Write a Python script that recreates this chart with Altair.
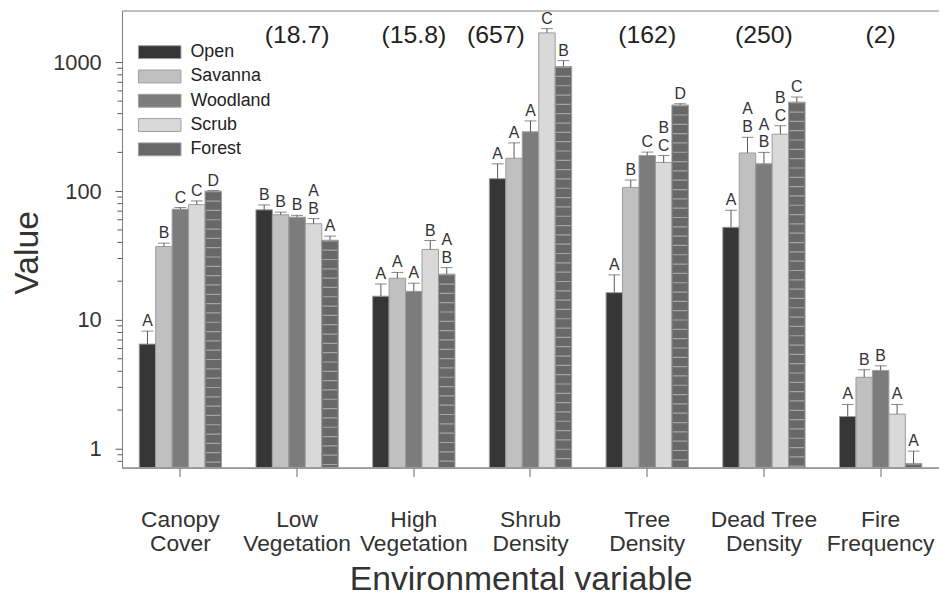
import altair as alt
import pandas as pd

categories = ["Canopy Cover", "Low Vegetation", "High Vegetation", "Shrub Density",
              "Tree Density", "Dead Tree Density", "Fire Frequency"]
habitats = ["Open", "Savanna", "Woodland", "Scrub", "Forest"]
colors = ["#363636", "#c0c0c0", "#7c7c7c", "#d9d9d9", "#686868"]

means = {
    "Open":     [6.5, 71.6, 15.3, 125, 16.3, 52.4, 1.78],
    "Savanna":  [37.2, 65.6, 21.1, 180, 107, 198, 3.59],
    "Woodland": [72.4, 62.8, 16.7, 289, 189, 163, 4.06],
    "Scrub":    [78.6, 55.9, 35.3, 1693, 167, 277, 1.86],
    "Forest":   [100, 41.6, 22.7, 928, 466, 491, 0.77],
}
upper = {
    "Open":     [8.2, 78.2, 19.0, 163, 22.4, 71.1, 2.21],
    "Savanna":  [39.5, 68.7, 23.4, 237, 122, 262, 4.11],
    "Woodland": [74.6, 64.9, 19.3, 351, 201, 200, 4.41],
    "Scrub":    [84, 61.2, 41.4, 1827, 189, 322, 2.21],
    "Forest":   [101, 44.8, 25.5, 1032, 477, 538, 0.96],
}
# letter directly above the error bar
letters_low = {
    "Open":     ["A", "B", "A", "A", "A", "A", "A"],
    "Savanna":  ["B", "B", "A", "A", "B", "B", "B"],
    "Woodland": ["C", "B", "A", "A", "C", "B", "B"],
    "Scrub":    ["C", "B", "B", "C", "C", "C", "A"],
    "Forest":   ["D", "A", "B", "B", "D", "C", "A"],
}
# second letter stacked above (where two groups share)
letters_high = {
    "Open":     ["", "", "", "", "", "", ""],
    "Savanna":  ["", "", "", "", "", "A", ""],
    "Woodland": ["", "", "", "", "", "A", ""],
    "Scrub":    ["", "A", "", "", "B", "B", ""],
    "Forest":   ["", "", "A", "", "", "", ""],
}
totals = ["", "(18.7)", "(15.8)", "(657)", "(162)", "(250)", "(2)"]
major_ticks = [1, 10, 100, 1000]
minor_ticks = [0.8, 0.9, 2, 3, 4, 5, 6, 7, 8, 9, 20, 30, 40, 50, 60, 70, 80, 90,
               200, 300, 400, 500, 600, 700, 800, 900]
YMIN, YMAX = 0.715, 2525

rows = []
for h in habitats:
    for i, c in enumerate(categories):
        rows.append({"cat": c, "hab": h, "mean": means[h][i], "upper": upper[h][i],
                     "lo": letters_low[h][i], "hi": letters_high[h][i]})
df = pd.DataFrame(rows)
tot_df = pd.DataFrame({"cat": categories, "total": totals})
minor_df = pd.DataFrame({"v": minor_ticks})

W, H = 824, 461
FONT = "Liberation Sans"

xscale = alt.Scale(domain=categories, paddingInner=0.295, paddingOuter=0.1475)
oscale = alt.Scale(domain=habitats, paddingInner=0, paddingOuter=0)
yscale = alt.Scale(type="log", domain=[YMIN, YMAX], nice=False)

label_expr = ("datum.label == 'Dead Tree Density' ? ['Dead Tree', 'Density'] : "
              "split(datum.label, ' ')")

x_enc = alt.X("cat:N", scale=xscale, sort=categories, title="Environmental variable",
              axis=alt.Axis(labelExpr=label_expr, labelFontSize=23,
                            labelLineHeight=25, labelPadding=32, labelColor="#333",
                            tickSize=9, tickColor="#666", domainColor="#808080",
                            labelAngle=0, titleFontSize=34, titleFont=FONT,
                            titleFontWeight="normal", titleColor="#333",
                            titleX=402, titleY=123, titleBaseline="alphabetic"))
xo_enc = alt.XOffset("hab:N", scale=oscale, sort=habitats)
x_plain = alt.X("cat:N", scale=xscale, sort=categories)

bars = alt.Chart(df).mark_bar(stroke="#9c9c9c", strokeWidth=1).encode(
    x=x_enc, xOffset=xo_enc,
    y=alt.Y("mean:Q", scale=yscale, title="Value",
            axis=alt.Axis(values=major_ticks, labelExpr="format(datum.value, 'd')",
                          tickSize=7, labelPadding=14, labelFontSize=22, labelColor="#333",
                          tickColor="#555", domainColor="#808080", grid=False,
                          titleFontSize=34, titleFontWeight="normal", titleColor="#333",
                          titleX=-95, titleY=244, titleAlign="center",
                          titleBaseline="middle")),
    y2=alt.datum(YMIN),
    fill=alt.Fill("hab:N", scale=alt.Scale(domain=habitats, range=colors),
                  legend=alt.Legend(title=None, orient="none", legendX=29, legendY=33,
                                    symbolType="M-3.3,-1L3.3,-1L3.3,1L-3.3,1Z",
                                    symbolSize=169, symbolStrokeColor="#a0a0a0",
                                    symbolStrokeWidth=1, labelFontSize=18,
                                    labelColor="#222", labelOffset=22, rowPadding=6.5,
                                    padding=0)),
)

stripes = alt.Chart(df).transform_filter(alt.datum.hab == "Forest").mark_rule(
    strokeWidth=14.5, strokeDash=[1.2, 8.2], color="#a5a5a5", strokeCap="butt"
).encode(x=x_plain, xOffset=xo_enc,
         y=alt.Y("mean:Q", scale=yscale), y2=alt.datum(YMIN))

err = alt.Chart(df).mark_rule(color="#555", strokeWidth=1).encode(
    x=x_plain, xOffset=xo_enc,
    y=alt.Y("mean:Q", scale=yscale), y2="upper:Q")

caps = alt.Chart(df).mark_tick(color="#555", size=12, thickness=1).encode(
    x=x_plain, xOffset=xo_enc,
    y=alt.Y("upper:Q", scale=yscale))

let_lo = alt.Chart(df).mark_text(baseline="bottom", dy=-2, fontSize=16, color="#333").encode(
    x=x_plain, xOffset=xo_enc, y=alt.Y("upper:Q", scale=yscale), text="lo:N")

let_hi = alt.Chart(df).transform_filter(alt.datum.hi != "").mark_text(
    baseline="bottom", dy=-20, fontSize=16, color="#333").encode(
    x=x_plain, xOffset=xo_enc, y=alt.Y("upper:Q", scale=yscale), text="hi:N")

tots = alt.Chart(tot_df).transform_filter(alt.datum.cat != "Shrub Density").mark_text(
    fontSize=25, color="#222", baseline="middle").encode(
    x=x_plain, y=alt.value(25), text="total:N")

tots_shift = alt.Chart(tot_df).transform_filter(alt.datum.cat == "Shrub Density").mark_text(
    fontSize=25, color="#222", baseline="middle", dx=-35).encode(
    x=x_plain, y=alt.value(25), text="total:N")

minor = alt.Chart(minor_df).mark_rule(color="#555", strokeWidth=1).encode(
    y=alt.Y("v:Q", scale=yscale), x=alt.value(-4.5), x2=alt.value(0))

chart = alt.layer(bars, stripes, err, caps, let_lo, let_hi, tots, tots_shift, minor).properties(
    width=W, height=H,
    autosize=alt.AutoSizeParams(type="none"),
    padding={"left": 115, "top": 0, "right": 0, "bottom": 130},
).configure(font=FONT).configure_view(stroke="#808080", strokeWidth=1)

chart.save("out.html", embed_options={"renderer": "svg", "actions": False})
